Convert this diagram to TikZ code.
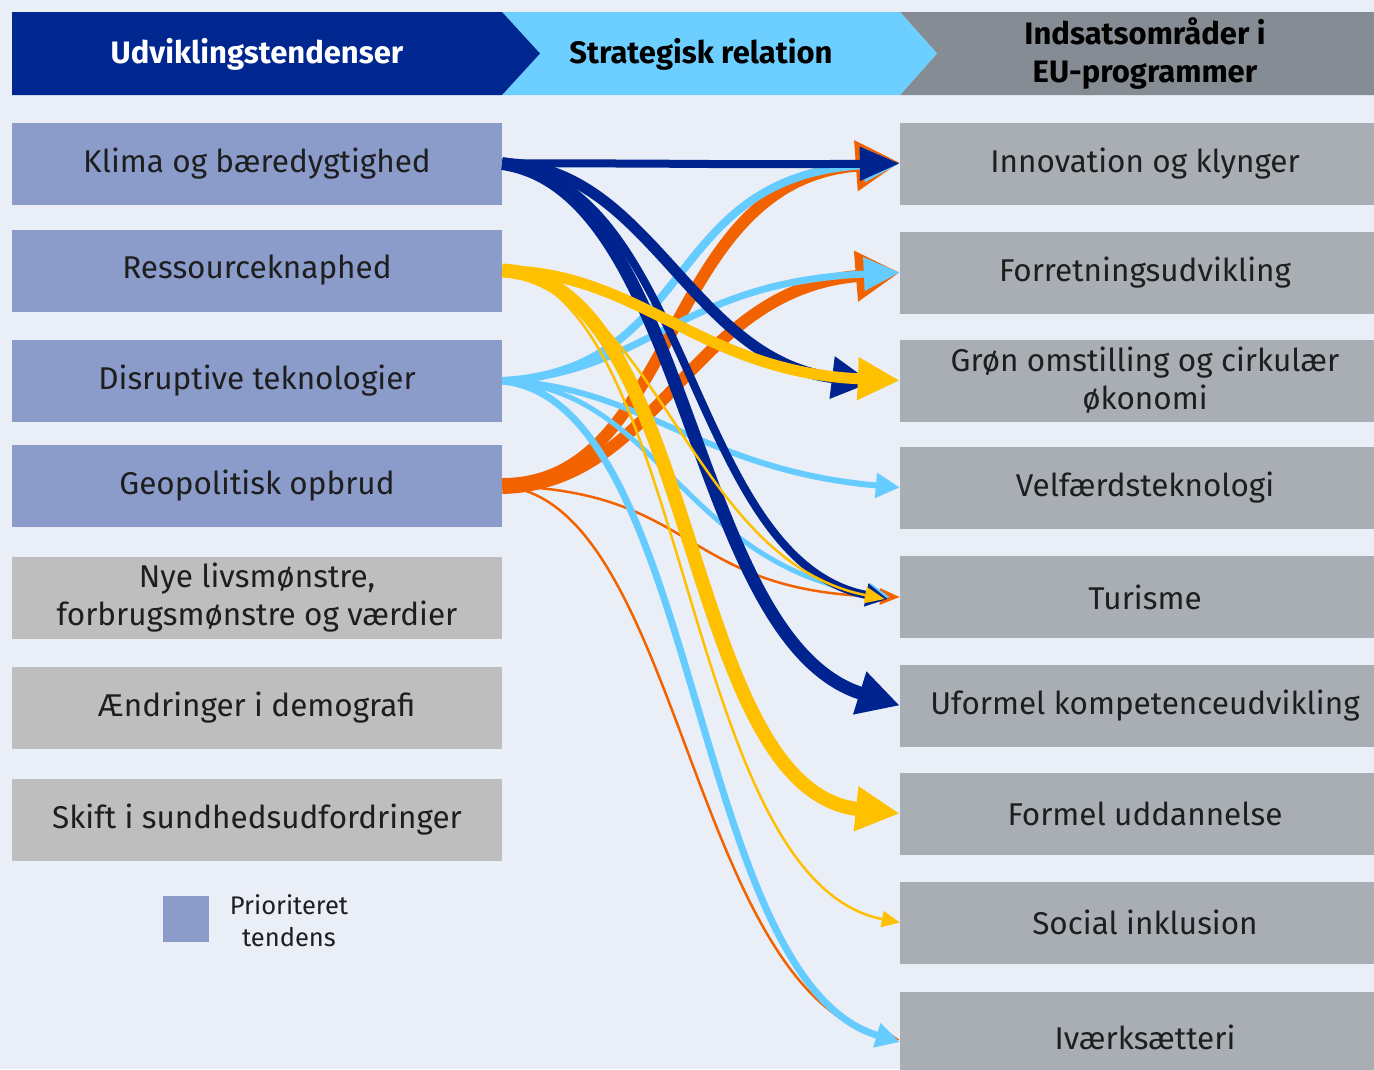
\documentclass[tikz,border=0pt]{standalone}
\usepackage{fontspec}
\setmainfont{Fira Sans}
\usetikzlibrary{arrows.meta}
\definecolor{bg}{RGB}{234,238,247}
\definecolor{hdark}{RGB}{0,38,143}
\definecolor{hlight}{RGB}{108,207,255}
\definecolor{hgray}{RGB}{134,140,147}
\definecolor{prio}{RGB}{139,156,203}
\definecolor{lgray}{RGB}{190,190,190}
\definecolor{rgray}{RGB}{169,174,180}
\definecolor{cdark}{RGB}{0,36,143}
\definecolor{cyel}{RGB}{255,192,0}
\definecolor{clight}{RGB}{102,204,255}
\definecolor{corange}{RGB}{242,99,0}
\definecolor{txt}{RGB}{30,30,30}
\begin{document}
\begin{tikzpicture}[x=1pt,y=-1pt,
  boxfont/.style={font=\fontsize{31.5}{38}\selectfont},
  lbox/.style={minimum width=490pt,minimum height=82pt,inner sep=0pt,align=center,boxfont,text=txt},
  prbox/.style={lbox,fill=prio},
  grbox/.style={lbox,fill=lgray},
  rbox/.style={minimum width=480pt,minimum height=82pt,inner sep=0pt,align=center,boxfont,text=txt,fill=rgray},
  hfont/.style={font=\fontsize{31}{38}\selectfont\bfseries},
  conn/.style={line cap=butt},
  tip/.style 2 args={-{Triangle[length=#1pt,width=#2pt]}}
]
\useasboundingbox (0,0) rectangle (1374,1069);
\fill[bg] (0,0) rectangle (1374,1069);

% header
\fill[hgray] (900,12) -- (1374,12) -- (1374,95) -- (900,95) -- (937,53.5) -- cycle;
\fill[hlight] (502,12) -- (900,12) -- (937,53.5) -- (900,95) -- (502,95) -- (540,53.5) -- cycle;
\fill[hdark] (12,12) -- (502,12) -- (540,53.5) -- (502,95) -- (12,95) -- cycle;
\node[hfont,text=white] (h1) at (257,54) {Udviklingstendenser};
\node[hfont,text=black] (h2) at (701,54) {Strategisk relation};
\node[hfont,text=black,align=center] (h3) at (1145,53) {Indsatsområder i\\EU-programmer};

% left boxes
\node[prbox] (L1) at (257,163.5) {Klima og bæredygtighed};
\node[prbox] (L2) at (257,270.5) {Ressourceknaphed};
\node[prbox] (L3) at (257,381) {Disruptive teknologier};
\node[prbox] (L4) at (257,486) {Geopolitisk opbrud};
\node[grbox] (L5) at (257,597.5) {Nye livsmønstre,\\forbrugsmønstre og værdier};
\node[grbox] (L6) at (257,707.5) {Ændringer i demografi};
\node[grbox] (L7) at (257,819.5) {Skift i sundhedsudfordringer};

% right boxes
\node[rbox,minimum width=490pt] (R1) at (1145,163.5) {Innovation og klynger};
\node[rbox,minimum width=490pt] (R2) at (1145,272.5) {Forretningsudvikling};
\node[rbox,minimum width=490pt] (R3) at (1145,380.5) {Grøn omstilling og cirkulær\\økonomi};
\node[rbox,minimum width=490pt] (R4) at (1145,487.5) {Velfærdsteknologi};
\node[rbox,minimum width=490pt] (R5) at (1145,597) {Turisme};
\node[rbox,minimum width=490pt] (R6) at (1145,705.5) {Uformel kompetenceudvikling};
\node[rbox,minimum width=490pt] (R7) at (1145,813.5) {Formel uddannelse};
\node[rbox,minimum width=490pt] (R8) at (1145,922.5) {Social inklusion};
\node[rbox,minimum width=490pt,minimum height=90pt] (R9) at (1145,1037) {Iværksætteri};

% legend
\node[fill=prio,minimum width=46pt,minimum height=46pt,inner sep=0pt] (lg) at (186,919) {};
\node[font=\fontsize{25.5}{32}\selectfont,text=txt,align=center] (lgt) at (289,921) {Prioriteret\\tendens};

% orange connectors
\draw[conn,corange,line width=12pt,tip={44}{48}] ([yshift=2pt]L4.east) .. controls (680,484) and (660,180) .. ([yshift=1pt]R1.west);
\draw[conn,corange,line width=12pt,tip={44}{48}] ([yshift=-2pt]L4.east) .. controls (660,484) and (690,290) .. (R2.west);
\draw[conn,corange,line width=2.5pt,tip={20}{16}] (L4.east) .. controls (700,490) and (680,592) .. (R5.west);
\draw[conn,corange,line width=2.5pt,tip={20}{16}] (L4.east) .. controls (680,500) and (690,990) .. ([yshift=-3pt]R9.west);

% light blue connectors
\draw[conn,clight,line width=8pt,tip={36}{32}] (L3.east) .. controls (700,370) and (660,175) .. (R1.west);
\draw[conn,clight,line width=7pt,tip={36}{32}] (L3.east) .. controls (650,372) and (680,282) .. (R2.west);
\draw[conn,clight,line width=6pt,tip={24}{24}] (L3.east) .. controls (640,385) and (700,470) .. (R4.west);
\draw[conn,clight,line width=5pt,tip={22}{20}] (L3.east) .. controls (660,390) and (680,562) .. ([xshift=-10pt]R5.west);
\draw[conn,clight,line width=7pt,tip={24}{24}] (L3.east) .. controls (700,400) and (690,980) .. ([yshift=-5pt]R9.west);

% dark blue connectors
\draw[conn,cdark,line width=8pt,tip={40}{32}] (L1.east) .. controls (700,163) and (700,165) .. (R1.west);
\draw[conn,cdark,line width=8pt,tip={22}{22}] (L1.east) .. controls (690,180) and (690,562) .. ([xshift=-12pt,yshift=-2pt]R5.west);
\draw[conn,cdark,line width=13pt,tip={42}{42}] (L1.east) .. controls (690,190) and (690,640) .. (R6.west);
\draw[conn,cdark,line width=11pt,tip={40}{40}] (L1.east) .. controls (650,165) and (690,360) .. ([xshift=-28pt,yshift=-2pt]R3.west);

% yellow connectors
\draw[conn,cyel,line width=2.5pt,tip={20}{16}] (L2.east) .. controls (660,290) and (690,560) .. ([xshift=-15pt,yshift=-2pt]R5.west);
\draw[conn,cyel,line width=2.5pt,tip={18}{16}] (L2.east) .. controls (690,290) and (680,880) .. (R8.west);
\draw[conn,cyel,line width=14pt,tip={44}{42}] (L2.east) .. controls (700,280) and (680,790) .. (R7.west);
\draw[conn,cyel,line width=11pt,tip={42}{40}] (L2.east) .. controls (640,272) and (700,372) .. (R3.west);
\end{tikzpicture}
\end{document}
